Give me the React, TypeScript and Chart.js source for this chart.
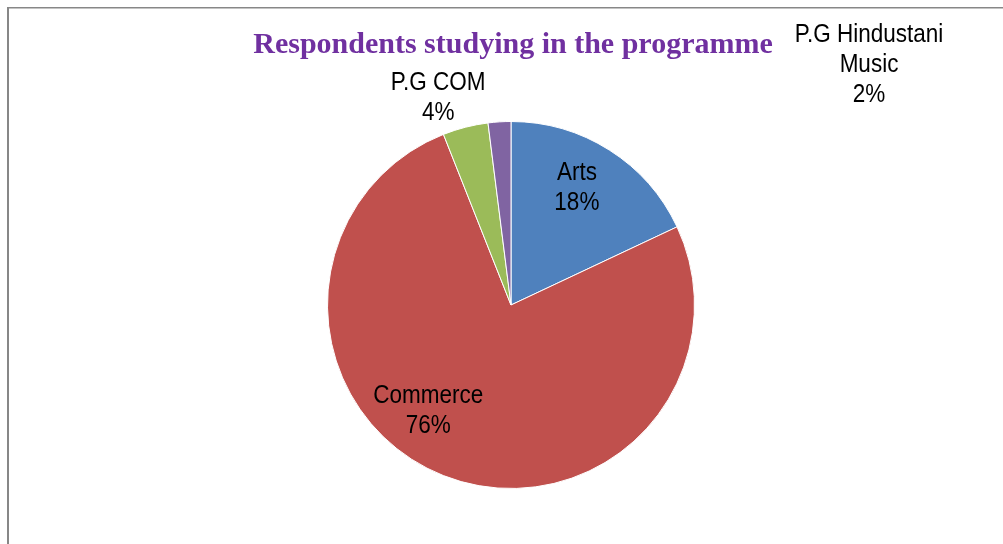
import React, { useEffect, useRef } from "react";
import { Chart, registerables } from "chart.js";

Chart.register(...registerables);

const categories = ["Arts", "Commerce", "P.G COM", "P.G Hindustani Music"];
const values = [18, 76, 4, 2];
const labelLines = [["Arts", "18%"], ["Commerce", "76%"], ["P.G COM", "4%"], ["P.G Hindustani", "Music", "2%"]];
const colors = ["#4F81BD", "#C0504D", "#9BBB59", "#8064A2"];
const labelOffsets = [
  [0.359, -0.636],
  [-0.451, 0.576],
  [-0.397, -1.125],
  [1.951, -1.31],
];
const titleText = "Respondents studying in the programme";

export default function App() {
  const ref = useRef<HTMLCanvasElement | null>(null);
  useEffect(() => {
    document.body.style.margin = "0";
    const canvas = ref.current!;
    const labelsPlugin = {
      id: "customLabels",
      afterDraw(chart: any) {
        const ctx = chart.ctx;
        ctx.save();
        // border frame
        ctx.fillStyle = "#878787";
        ctx.fillRect(7, 7, 2, 544);
        ctx.fillRect(7, 7, 1003, 1.5);
        // title
        ctx.font = "bold 30px 'Liberation Serif', 'Times New Roman', serif";
        ctx.fillStyle = "#7030A0";
        ctx.textAlign = "center";
        ctx.textBaseline = "middle";
        ctx.fillText(titleText, 513, 45);
        // labels
        const meta = chart.getDatasetMeta(0);
        ctx.fillStyle = "#000000";
        meta.data.forEach((arc: any, i: number) => {
          const r = arc.outerRadius;
          const cx = arc.x + labelOffsets[i][0] * r;
          const cy = arc.y + labelOffsets[i][1] * r;
          const lines = labelLines[i];
          const lh = 30;
          const start = cy - ((lines.length - 1) * lh) / 2;
          lines.forEach((t, k) => {
            ctx.save();
            ctx.translate(cx, start + k * lh);
            ctx.scale(0.9, 1);
            ctx.font = "25px 'Liberation Sans', Arial, sans-serif";
            ctx.fillText(t, 0, 0);
            ctx.restore();
          });
        });
        ctx.restore();
      },
    };
    const chart = new Chart(canvas, {
      type: "pie",
      data: {
        labels: categories,
        datasets: [
          {
            data: values,
            backgroundColor: colors,
            borderColor: "#FFFFFF",
            borderWidth: 1,
          },
        ],
      },
      options: {
        animation: false,
        responsive: false,
        layout: { padding: { left: 327, right: 308, top: 121, bottom: 55 } },
        plugins: {
          legend: { display: false },
          tooltip: { enabled: false },
          title: { display: false },
        },
      },
      plugins: [labelsPlugin],
    });
    return () => chart.destroy();
  }, []);
  return (
    <div style={{ position: "fixed", left: 0, top: 0, width: 1003, height: 544, background: "#fff" }}>
      <canvas ref={ref} width={1003} height={544} style={{ width: 1003, height: 544, display: "block" }} />
    </div>
  );
}
